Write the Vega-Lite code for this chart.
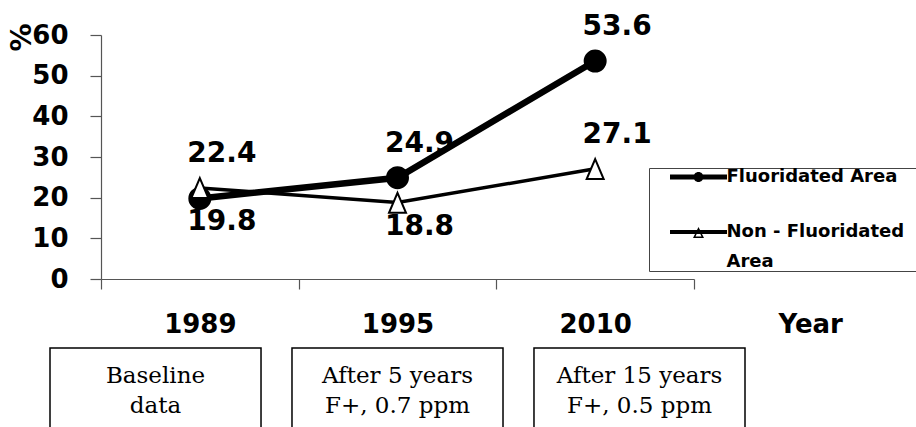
{
  "$schema": "https://vega.github.io/schema/vega-lite/v6.json",
  "padding": {"left": 8, "top": 13, "right": 0, "bottom": 0},
  "background": "white",
  "config": {"view": {"stroke": null}, "font": "DejaVu Sans", "style": {"guide-label": {"lineHeight": 30}}},
  "datasets": {
    "rates": [
      {"year": "1989", "series": "Fluoridated Area", "value": 19.8},
      {"year": "1995", "series": "Fluoridated Area", "value": 24.9},
      {"year": "2010", "series": "Fluoridated Area", "value": 53.6},
      {"year": "1989", "series": "Non - Fluoridated Area", "value": 22.4},
      {"year": "1995", "series": "Non - Fluoridated Area", "value": 18.8},
      {"year": "2010", "series": "Non - Fluoridated Area", "value": 27.1}
    ],
    "notes": [
      {"year": "1989", "note": "Baseline\ndata"},
      {"year": "1995", "note": "After 5 years\nF+, 0.7 ppm"},
      {"year": "2010", "note": "After 15 years\nF+, 0.5 ppm"}
    ]
  },
  "concat": [
    {
      "width": 593,
      "height": 244,
      "data": {"name": "rates"},
      "encoding": {
        "x": {
          "field": "year", "type": "ordinal",
          "scale": {"type": "band", "paddingInner": 0, "paddingOuter": 0},
          "axis": {
            "title": "Year", "tickBand": "extent", "tickSize": 10, "labelAngle": 0,
            "labelFont": "DejaVu Sans", "labelFontWeight": "bold", "labelFontSize": 26, "labelColor": "black",
            "labelPadding": 43, "labelBaseline": "alphabetic",
            "domainColor": "#555", "tickColor": "#555", "domainWidth": 1.2, "tickWidth": 1.2, "grid": false,
            "titleX": 677, "titleY": 53, "titleAlign": "left", "titleAnchor": "start", "titleBaseline": "alphabetic",
            "titleFont": "DejaVu Sans", "titleFontWeight": "bold", "titleFontSize": 26, "titleColor": "black"
          }
        },
        "y": {
          "field": "value", "type": "quantitative",
          "scale": {"domain": [0, 60], "nice": false},
          "axis": {
            "title": "%", "values": [0, 10, 20, 30, 40, 50, 60], "tickSize": 11, "grid": false,
            "labelFont": "DejaVu Sans", "labelFontWeight": "bold", "labelFontSize": 26, "labelColor": "black", "labelPadding": 22,
            "domainColor": "#555", "tickColor": "#555", "domainWidth": 1.2, "tickWidth": 1.2,
            "titleX": -79, "titleY": 2, "titleAngle": -90, "titleAlign": "center", "titleBaseline": "middle",
            "titleFont": "DejaVu Sans", "titleFontWeight": "bold", "titleFontSize": 28, "titleColor": "black"
          }
        }
      },
      "layer": [
        {
          "mark": {"type": "line", "color": "black"},
          "encoding": {
            "detail": {"field": "series"},
            "strokeWidth": {"condition": {"test": "datum.series == 'Fluoridated Area'", "value": 6.5}, "value": 3.5}
          }
        },
        {
          "mark": {"type": "point", "filled": true, "stroke": "black", "strokeWidth": 2, "opacity": 1},
          "encoding": {
            "shape": {"condition": {"test": "datum.series == 'Fluoridated Area'", "value": "circle"}, "value": "M0,-1.15L1,1.2L-1,1.2Z"},
            "size": {"condition": {"test": "datum.series == 'Fluoridated Area'", "value": 441}, "value": 289},
            "fill": {"condition": {"test": "datum.series == 'Fluoridated Area'", "value": "black"}, "value": "white"}
          }
        },
        {
          "transform": [{"filter": "false"}],
          "mark": {"type": "point", "filled": true, "color": "black", "strokeWidth": 0, "opacity": 1},
          "encoding": {
            "shape": {
              "field": "series", "type": "nominal",
              "scale": {
                "domain": ["Fluoridated Area", "Non - Fluoridated Area"],
                "range": [
                  "M-5.7,-0.5H5.7V0.5H-5.7Z M-1,0A1,1,0,1,1,1,0A1,1,0,1,1,-1,0Z M50,0",
                  "M-5.7,-0.4H5.7V0.4H-5.7Z M0,-1L1.1,1.2H-1.1Z M0,-0.4L-0.6,0.9H0.6Z M50,0"
                ]
              },
              "legend": {
                "title": null, "orient": "none", "legendX": 548, "legendY": 133, "padding": 0,
                "strokeColor": "#444", "fillColor": "white",
                "symbolSize": 100, "symbolOffset": 40.5, "labelOffset": 19,
                "symbolFillColor": "black", "symbolStrokeWidth": 0, "symbolOpacity": 1,
                "labelFont": "DejaVu Sans", "labelFontWeight": "bold", "labelFontSize": 18, "labelColor": "black",
                "labelLimit": 400, "rowPadding": 37,
                "labelExpr": "datum.label == 'Non - Fluoridated Area' ? ['Non - Fluoridated', 'Area'] : datum.label"
              }
            }
          }
        },
        {
          "transform": [{"filter": "!((datum.year == '1989' && datum.series == 'Fluoridated Area') || (datum.year == '1995' && datum.series == 'Non - Fluoridated Area'))"}],
          "mark": {"type": "text", "font": "DejaVu Sans", "fontWeight": "bold", "fontSize": 28, "dx": 22, "dy": -26, "baseline": "alphabetic", "align": "center", "color": "black"},
          "encoding": {"text": {"field": "value", "type": "quantitative", "format": ".1f"}}
        },
        {
          "transform": [{"filter": "(datum.year == '1989' && datum.series == 'Fluoridated Area') || (datum.year == '1995' && datum.series == 'Non - Fluoridated Area')"}],
          "mark": {"type": "text", "font": "DejaVu Sans", "fontWeight": "bold", "fontSize": 28, "dx": 22, "dy": 32, "baseline": "alphabetic", "align": "center", "color": "black"},
          "encoding": {"text": {"field": "value", "type": "quantitative", "format": ".1f"}}
        }
      ]
    },
    {
      "width": 593,
      "height": 100,
      "data": {"name": "notes"},
      "encoding": {
        "x": {"field": "year", "type": "ordinal", "scale": {"type": "band", "paddingInner": 0.128, "paddingOuter": 0, "range": [-51, 644]}, "axis": null}
      },
      "layer": [
        {"mark": {"type": "rect", "fill": "white", "stroke": "black", "strokeWidth": 1.5}},
        {
          "mark": {"type": "text", "font": "DejaVu Serif", "fontSize": 23, "lineBreak": "\n", "lineHeight": 30, "baseline": "alphabetic", "dy": -15, "color": "black"},
          "encoding": {"text": {"field": "note", "type": "nominal"}}
        }
      ]
    }
  ],
  "columns": 1,
  "spacing": 10,
  "resolve": {"scale": {"x": "independent"}}
}
